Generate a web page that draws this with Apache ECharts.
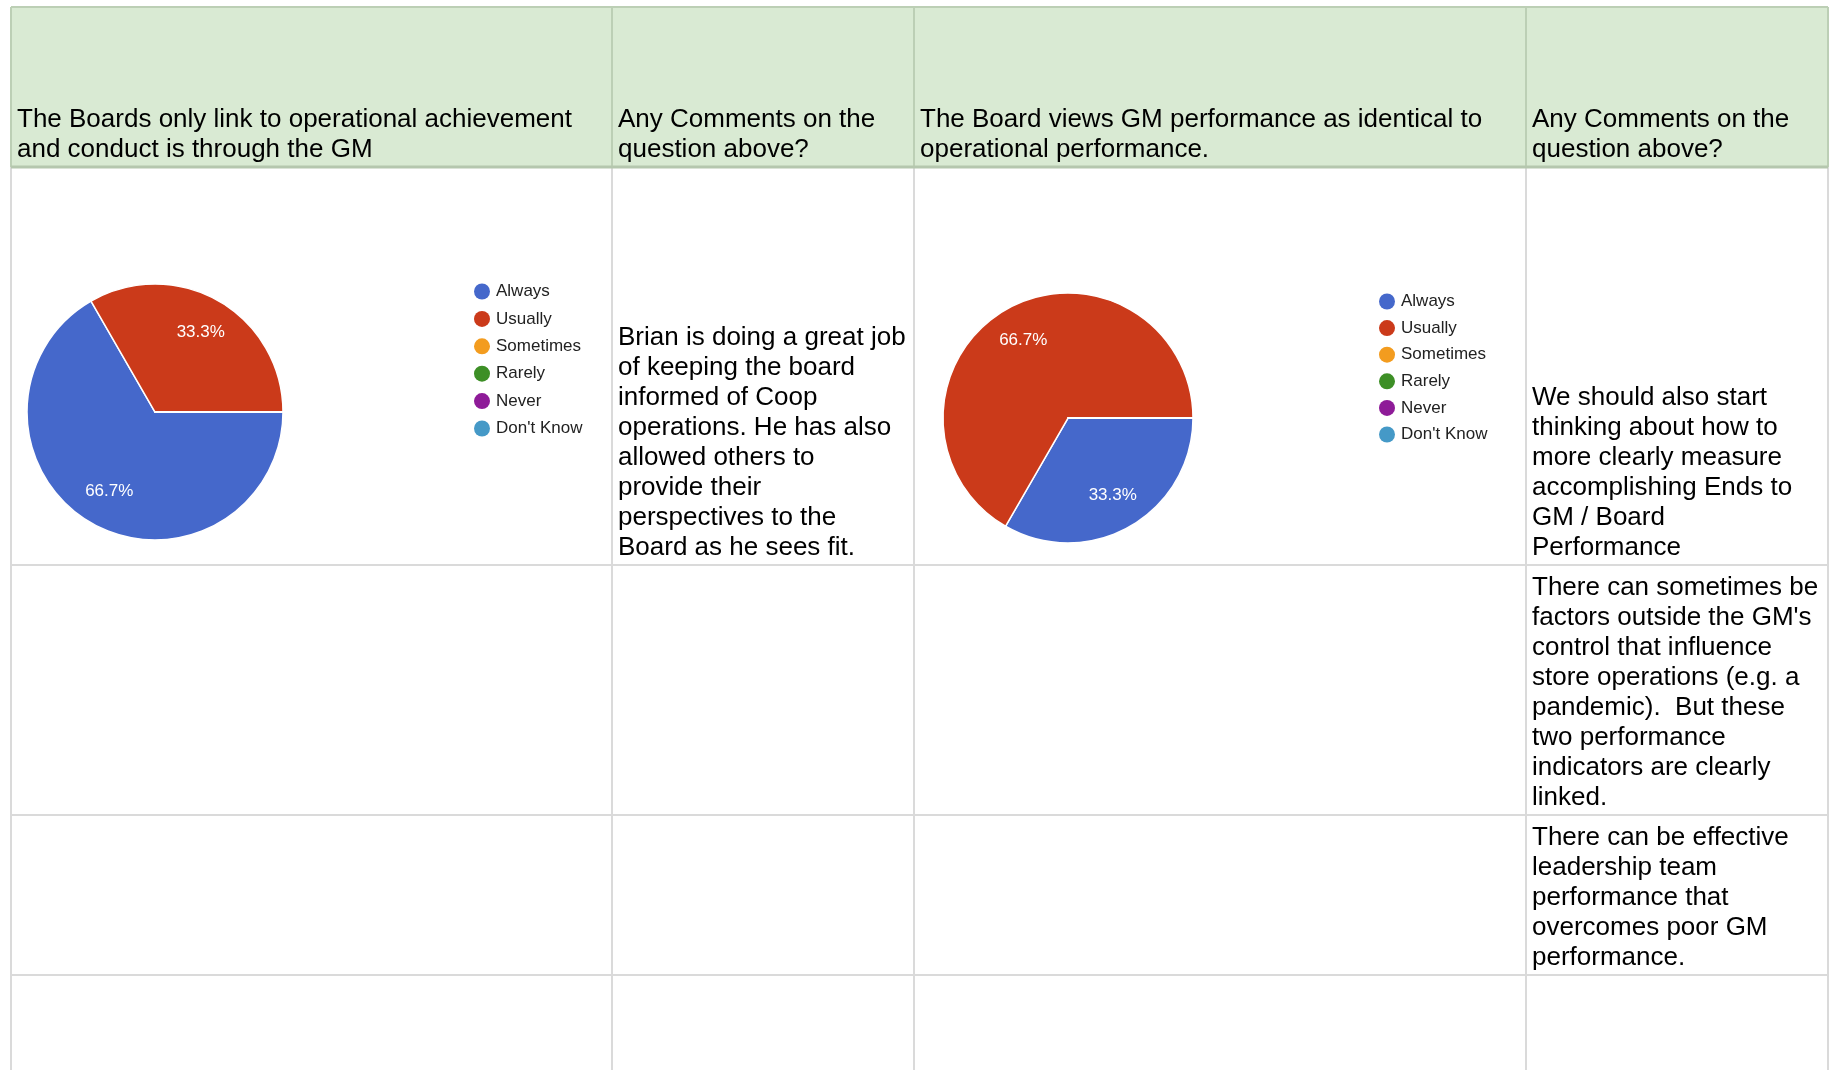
<!DOCTYPE html>
<html>
<head>
<meta charset="utf-8">
<title>Board / GM survey</title>
<script src="https://cdn.jsdelivr.net/npm/echarts@6/dist/echarts.min.js"></script>
<style>
  html, body { margin: 0; padding: 0; background: #fff; }
  #sheet { width: 1835px; height: 1070px; }
</style>
</head>
<body>
<div id="sheet"></div>
<script>
// answer options and counts
const categories = ['Always', 'Usually', 'Sometimes', 'Rarely', 'Never', "Don't Know"];
const linkThroughGmCounts = [2, 1, 0, 0, 0, 0];
const gmEqualsOpsCounts = [1, 2, 0, 0, 0, 0];

// sheet text, one array per column, wrapped as in the sheet
const headerCol1 = ['The Boards only link to operational achievement', 'and conduct is through the GM'];
const headerCol2 = ['Any Comments on the', 'question above?'];
const headerCol3 = ['The Board views GM performance as identical to', 'operational performance.'];
const headerCol4 = ['Any Comments on the', 'question above?'];
const commentCol2 = [
  ['Brian is doing a great job', 'of keeping the board', 'informed of Coop', 'operations. He has also',
   'allowed others to', 'provide their', 'perspectives to the', 'Board as he sees fit.']
];
const commentCol4 = [
  ['We should also start', 'thinking about how to', 'more clearly measure', 'accomplishing Ends to',
   'GM / Board', 'Performance'],
  ['There can sometimes be', "factors outside the GM's", 'control that influence', 'store operations (e.g. a',
   'pandemic).  But these', 'two performance', 'indicators are clearly', 'linked.'],
  ['There can be effective', 'leadership team', 'performance that', 'overcomes poor GM', 'performance.']
];

const palette = ['#4568cb', '#cb3a1a', '#f39c1f', '#3d8f26', '#8e1b98', '#4599c7'];
const FONT = '"Liberation Sans", Arial, sans-serif';

// sheet geometry
const colX = [11, 612, 914, 1526, 1828];
const rowY = [7, 167, 565, 815, 975];
const H = 1070;

let chartDom = document.getElementById('sheet');
let myChart = echarts.init(chartDom);

let graphics = [];

// header fill
graphics.push({
  type: 'rect', z: 0,
  shape: { x: colX[0], y: rowY[0], width: colX[4] - colX[0], height: rowY[1] - rowY[0] },
  style: { fill: '#d9ead3' }
});

// body grid
for (let i = 2; i < rowY.length; i++) {
  graphics.push({
    type: 'line', z: 1,
    shape: { x1: colX[0], y1: rowY[i], x2: colX[4], y2: rowY[i] },
    style: { stroke: '#dadada', lineWidth: 2 }
  });
}
for (let i = 0; i < colX.length; i++) {
  graphics.push({
    type: 'line', z: 1,
    shape: { x1: colX[i], y1: rowY[1], x2: colX[i], y2: H },
    style: { stroke: '#dadada', lineWidth: 2 }
  });
  graphics.push({
    type: 'line', z: 2,
    shape: { x1: colX[i], y1: rowY[0], x2: colX[i], y2: rowY[1] },
    style: { stroke: '#bccfb5', lineWidth: 2 }
  });
}
graphics.push({
  type: 'line', z: 2,
  shape: { x1: colX[0], y1: rowY[0], x2: colX[4], y2: rowY[0] },
  style: { stroke: '#bccfb5', lineWidth: 2 }
});
graphics.push({
  type: 'line', z: 3,
  shape: { x1: colX[0], y1: rowY[1], x2: colX[4], y2: rowY[1] },
  style: { stroke: '#b5c7ae', lineWidth: 3 }
});

// bottom-aligned cell text
function cellText(lines, col, row) {
  return {
    type: 'text', z: 5,
    x: colX[col] + 6,
    y: rowY[row + 1] - 2,
    style: {
      text: lines.join('\n'),
      font: '26px ' + FONT,
      lineHeight: 30,
      fill: '#000',
      verticalAlign: 'bottom'
    }
  };
}
graphics.push(cellText(headerCol1, 0, 0));
graphics.push(cellText(headerCol2, 1, 0));
graphics.push(cellText(headerCol3, 2, 0));
graphics.push(cellText(headerCol4, 3, 0));
commentCol2.forEach((lines, r) => graphics.push(cellText(lines, 1, r + 1)));
commentCol4.forEach((lines, r) => graphics.push(cellText(lines, 3, r + 1)));

function toData(counts) {
  return categories.map((name, i) => ({ name: name, value: counts[i] }));
}

function pieSeries(counts, center, r) {
  let data = toData(counts);
  return [
    {
      type: 'pie',
      center: center,
      radius: [0, r],
      startAngle: 0,
      clockwise: true,
      data: data,
      label: { show: false },
      labelLine: { show: false },
      itemStyle: { borderColor: '#fff', borderWidth: 1.5 },
      emphasis: { disabled: true }
    },
    {
      // transparent ring just to park the percentages at ~70% of the radius
      type: 'pie',
      center: center,
      radius: [Math.round(r * 0.38), r],
      startAngle: 0,
      clockwise: true,
      silent: true,
      data: data,
      itemStyle: { color: 'rgba(0,0,0,0)', borderWidth: 0 },
      label: {
        show: true,
        position: 'inside',
        color: '#fff',
        fontSize: 17,
        fontFamily: FONT,
        formatter: p => (p.value ? p.percent.toFixed(1) + '%' : '')
      },
      labelLine: { show: false },
      emphasis: { disabled: true }
    }
  ];
}

function legendAt(left, top, gap) {
  return {
    data: categories,
    orient: 'vertical',
    left: left,
    top: top,
    padding: 0,
    icon: 'circle',
    itemWidth: 16,
    itemHeight: 16,
    itemGap: gap,
    selectedMode: false,
    itemStyle: { borderWidth: 0 },
    textStyle: { fontSize: 17, fontFamily: FONT, color: '#222', padding: [0, 0, 0, 1] }
  };
}

let option = {
  animation: false,
  backgroundColor: '#fff',
  color: palette,
  legend: [legendAt(474, 283, 10.4), legendAt(1379, 293, 9.6)],
  graphic: { elements: graphics },
  series: [].concat(
    pieSeries(linkThroughGmCounts, [155, 412], 128),
    pieSeries(gmEqualsOpsCounts, [1068, 418], 125)
  )
};
myChart.setOption(option);
</script>
</body>
</html>
